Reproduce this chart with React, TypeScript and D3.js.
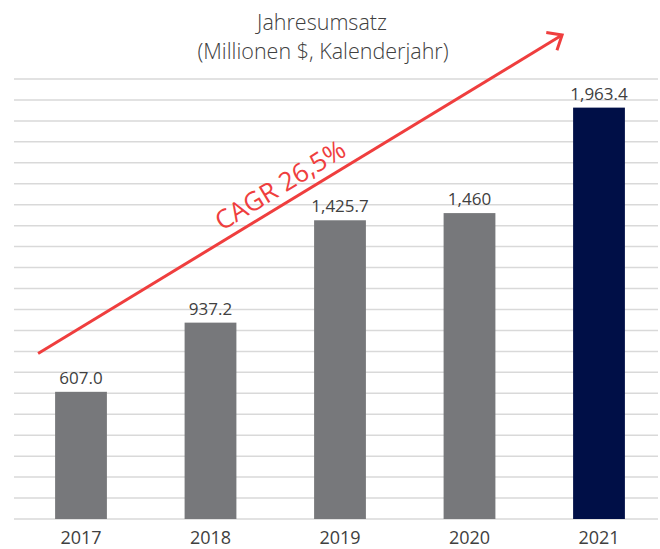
import React from "react";
import * as d3 from "d3";

const years = ["2017", "2018", "2019", "2020", "2021"];
const revenue = [607.0, 937.2, 1425.7, 1460, 1963.4];
const valueLabels = ["607.0", "937.2", "1,425.7", "1,460", "1,963.4"];
const barColors = ["#77787b", "#77787b", "#77787b", "#77787b", "#000f47"];
const titleLines = ["Jahresumsatz", "(Millionen $, Kalenderjahr)"];
const cagrLabel = "CAGR 26,5%";
const yMax = 2100;
const gridStep = 100;

const W = 660;
const H = 549;
const FONT = "'Open Sans', 'Noto Sans', sans-serif";

export default function App() {
  const x = d3.scaleBand<string>().domain(years).range([16.25, 663.75]).paddingInner(0.6).paddingOuter(0.3);
  const y = d3.scaleLinear().domain([0, yMax]).range([519, 79]);
  const grid = d3.range(0, yMax + 1, gridStep);

  // trend arrow expressed in chart space
  const x1 = (x("2017") as number) - 17;
  const y1 = y(790);
  const x2 = (x("2021") as number) - 11;
  const y2 = y(2310);
  const ang = Math.atan2(y2 - y1, x2 - x1);
  const back = ang + Math.PI;
  const arm = 16;
  const half = (40 * Math.PI) / 180;
  const a1 = [x2 + arm * Math.cos(back + half), y2 + arm * Math.sin(back + half)];
  const a2 = [x2 + arm * Math.cos(back - half), y2 + arm * Math.sin(back - half)];
  const t = 0.48;
  const tx = x1 + (x2 - x1) * t;
  const ty = y1 + (y2 - y1) * t;
  const off = 9;
  const txo = tx + off * Math.sin(ang);
  const tyo = ty - off * Math.cos(ang);
  const deg = (ang * 180) / Math.PI;

  return (
    <svg width={W} height={H} style={{ position: "absolute", left: 0, top: 0, background: "#fff" }} fontFamily={FONT}>
      {grid.map((g) => (
        <line key={g} x1={14} x2={658} y1={y(g)} y2={y(g)} stroke="#d9d9d9" strokeWidth={1.5} />
      ))}
      {years.map((yr, i) => (
        <rect key={yr} x={x(yr)} y={y(revenue[i])} width={x.bandwidth()} height={y(0) - y(revenue[i])} fill={barColors[i]} />
      ))}
      {years.map((yr, i) => (
        <text key={"v" + yr} x={(x(yr) as number) + x.bandwidth() / 2} y={y(revenue[i]) - 8} textAnchor="middle" fontSize={17} fill="#404040">
          {valueLabels[i]}
        </text>
      ))}
      {years.map((yr) => (
        <text key={"y" + yr} x={(x(yr) as number) + x.bandwidth() / 2} y={544} textAnchor="middle" fontSize={18} fill="#404040">
          {yr}
        </text>
      ))}
      <text x={322} y={30} textAnchor="middle" fontSize={21.5} fontWeight={300} fill="#404040">
        {titleLines[0]}
      </text>
      <text x={323} y={59} textAnchor="middle" fontSize={21.5} fontWeight={300} fill="#404040">
        {titleLines[1]}
      </text>
      <line x1={x1} y1={y1} x2={x2} y2={y2} stroke="#ef3e3e" strokeWidth={3} />
      <polyline points={`${a1[0]},${a1[1]} ${x2},${y2} ${a2[0]},${a2[1]}`} fill="none" stroke="#ef3e3e" strokeWidth={3} strokeLinejoin="miter" />
      <text transform={`translate(${txo},${tyo}) rotate(${deg})`} textAnchor="middle" fontSize={26} fill="#ef3e3e">
        {cagrLabel}
      </text>
    </svg>
  );
}
